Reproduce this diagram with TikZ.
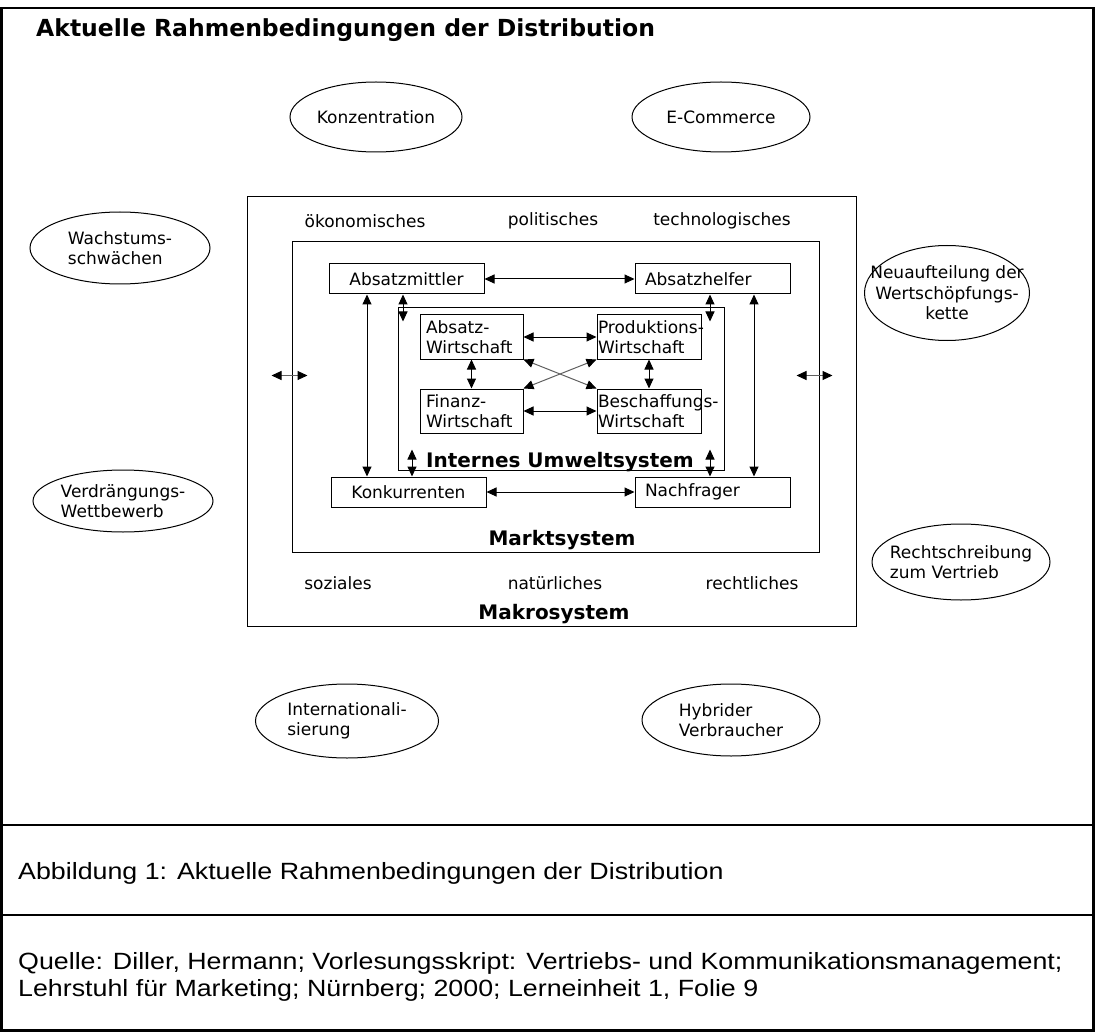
\documentclass[tikz,border=0pt]{standalone}
\usepackage{fontspec}
\setmainfont{DejaVu Sans}
\newfontfamily\capfont[FakeStretch=1.14]{Liberation Sans}
\usetikzlibrary{arrows.meta,positioning,shapes.geometric}
\newcommand{\txt}{\fontsize{17}{20.5}\selectfont}
\newcommand{\sysfont}{\fontsize{20}{24}\selectfont\bfseries}
\newcommand{\headfont}{\fontsize{23.5}{28}\selectfont\bfseries}
\newcommand{\capsize}{\capfont\fontsize{23.5}{27}\selectfont}
\tikzset{
panel/.style={draw, line width=2.5pt, outer sep=0pt, inner sep=0pt, minimum width=1092pt},
sysbox/.style={draw, line width=1pt, inner sep=0pt},
box/.style={draw, line width=1pt, minimum height=30pt, inner xsep=10pt, inner ysep=0pt, text width=135pt, font=\txt},
wbox/.style={draw, line width=1pt, minimum height=44pt, inner ysep=0pt, align=left, font=\txt},
oval/.style={ellipse, draw, line width=1pt, inner xsep=-30pt, inner ysep=-10pt, align=left, font=\txt},
lbl/.style={font=\txt, inner sep=0pt},
sys/.style={font=\sysfont, inner sep=0pt},
arr/.style={{Triangle[length=10pt,width=9pt]}-{Triangle[length=10pt,width=9pt]}, line width=1pt},
garr/.style={{Triangle[length=10pt,width=9pt,color=black]}-{Triangle[length=10pt,width=9pt,color=black]}, line width=1pt, draw=gray!75!black}
}
\begin{document}
\begin{tikzpicture}[x=1pt, y=-1pt, node distance=0pt]
\useasboundingbox (0,0) rectangle (1095,1032);
\node[panel, minimum height=817pt] (fig) at (547.5,416.5) {};
\node[panel, minimum height=90pt, below=of fig] (capt) {};
\node[panel, minimum height=115.5pt, below=of capt] (src) {};
\node[anchor=west, font=\headfont, inner sep=0pt] (title) at (36,30) {Aktuelle Rahmenbedingungen der Distribution};
\node[anchor=west, font=\capsize, inner sep=0pt] (abb) at ([xshift=16.5pt, yshift=-3pt]capt.west) {Abbildung 1: Aktuelle Rahmenbedingungen der Distribution};
\node[anchor=west, font=\capsize, inner sep=0pt, align=left] (quelle) at ([xshift=16.5pt, yshift=-4pt]src.west) {Quelle: Diller, Hermann; Vorlesungsskript: Vertriebs- und Kommunikationsmanagement;\\Lehrstuhl für Marketing; Nürnberg; 2000; Lerneinheit 1, Folie 9};

\node[oval, minimum width=172pt, minimum height=70pt] (konz) at (376,117) {Konzentration};
\node[oval, minimum width=178pt, minimum height=70pt] (ecom) at (721,117) {E-Commerce};
\node[oval, minimum width=180pt, minimum height=72pt] (wachs) at (120,248) {Wachstums-\\schwächen};
\node[oval, minimum width=165pt, minimum height=95pt, align=center] (neu) at (947,293) {Neuaufteilung der\\Wertschöpfungs-\\kette};
\node[oval, minimum width=180pt, minimum height=62pt] (verd) at (123,501) {Verdrängungs-\\Wettbewerb};
\node[oval, minimum width=178pt, minimum height=76pt] (recht) at (961,562) {Rechtschreibung\\zum Vertrieb};
\node[oval, minimum width=183pt, minimum height=74pt] (intl) at (347,721) {Internationali-\\sierung};
\node[oval, minimum width=178pt, minimum height=72pt] (hybr) at (731,720) {Hybrider\\Verbraucher};

\node[sysbox, minimum width=609pt, minimum height=429pt] (makro) at (551.5,411.5) {};
\node[sysbox, minimum width=527pt, minimum height=310pt] (markt) at (555.5,397) {};
\node[sysbox, minimum width=326pt, minimum height=162pt] (intern) at (561,389) {};
\node[lbl] (oekon) at (365,221) {ökonomisches};
\node[lbl] (polit) at (553,221) {politisches};
\node[lbl] (techn) at (722,221) {technologisches};
\node[lbl] (sozial) at (338,583) {soziales};
\node[lbl] (natur) at (555,583) {natürliches};
\node[lbl] (recht2) at (752,583) {rechtliches};
\node[sys] (makrolbl) at (554,614) {Makrosystem};
\node[sys] (marktlbl) at (562,540) {Marktsystem};
\node[sys] (internlbl) at (560,462) {Internes Umweltsystem};

\node[box, align=center] (mittler) at (406.5,279) {Absatzmittler};
\node[box, align=left] (helfer) at (712.5,279) {Absatzhelfer};
\node[box, align=center] (konk) at (408.5,492) {Konkurrenten};
\node[box, align=left] (nach) at (712.5,492) {Nachfrager};
\node[wbox, inner xsep=6pt, text width=91pt] (absatz) at (471.5,337) {Absatz-\\Wirtschaft};
\node[wbox, inner xsep=1pt, text width=102pt] (prod) at (649,337) {\mbox{Produktions-}\\Wirtschaft};
\node[wbox, inner xsep=6pt, text width=91pt] (finanz) at (471.5,411) {Finanz-\\Wirtschaft};
\node[wbox, inner xsep=1pt, text width=102pt] (besch) at (649,411) {\mbox{Beschaffungs-}\\Wirtschaft};

\foreach \a/\b in {mittler/helfer, konk/nach, absatz/prod, finanz/besch, absatz/finanz, prod/besch}
\draw[arr] (\a) -- (\b);
\draw[garr] (absatz.south east) -- (besch.north west);
\draw[garr] (prod.south west) -- (finanz.north east);

\coordinate (ml) at ([xshift=-39.5pt]mittler.south);
\coordinate (hr) at ([xshift=41.5pt]helfer.south);
\draw[arr] (ml) -- (ml |- konk.north);
\draw[arr] (hr) -- (hr |- nach.north);
\coordinate (itop) at ([yshift=-14pt]intern.north);
\coordinate (ibot) at ([yshift=21pt]intern.south);
\coordinate (mi) at ([xshift=-3.5pt]mittler.south);
\coordinate (hi) at ([xshift=-2.5pt]helfer.south);
\coordinate (ki) at ([xshift=3.5pt]konk.north);
\coordinate (ni) at ([xshift=-2.5pt]nach.north);
\draw[arr] (mi) -- (mi |- itop);
\draw[arr] (hi) -- (hi |- itop);
\draw[arr] (ki |- ibot) -- (ki);
\draw[arr] (ni |- ibot) -- (ni);

\coordinate (sl) at ([yshift=21.5pt]markt.west);
\coordinate (sr) at ([yshift=21.5pt]markt.east);
\draw[garr] ([xshift=-20pt]sl) -- ([xshift=16pt]sl);
\draw[garr] ([xshift=-23pt]sr) -- ([xshift=13pt]sr);
\end{tikzpicture}
\end{document}
